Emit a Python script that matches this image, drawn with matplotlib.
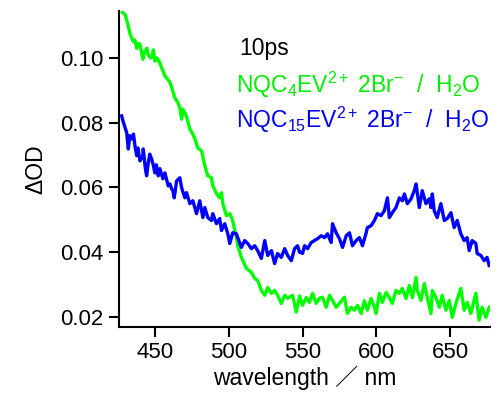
import matplotlib
matplotlib.use("Agg")
import matplotlib.pyplot as plt

plt.rcParams['font.family'] = ['Liberation Sans', 'Noto Sans CJK JP', 'DejaVu Sans']
plt.rcParams['mathtext.fontset'] = 'custom'
plt.rcParams['mathtext.rm'] = 'Liberation Sans'
plt.rcParams['mathtext.it'] = 'Liberation Sans'

# NQC4EV2+ 2Br- / H2O, 10 ps
green_nm = [428.0, 429.8, 431.0, 432.0, 433.1, 434.3, 435.2, 436.5, 437.7, 438.5,
            439.9, 441.0, 441.9, 443.0, 444.6, 445.5, 447.0, 448.0, 449.0, 450.0,
            451.5, 453.4, 455.0, 456.8, 458.5, 460.2, 461.5, 463.5, 465.6, 466.9,
            468.1, 468.9, 471.4, 473.7, 475.7, 477.5, 479.1, 481.6, 483.8, 485.8,
            488.3, 489.2, 491.7, 493.9, 495.1, 496.0, 498.5, 500.7, 502.7, 504.0,
            505.2, 506.1, 508.6, 510.0, 512.0, 515.4, 517.6, 519.6, 522.1, 524.4,
            526.4, 528.9, 531.1, 533.1, 535.6, 537.9, 539.9, 543.3, 545.8, 548.0,
            550.0, 552.5, 554.7, 556.8, 559.3, 561.5, 563.5, 566.0, 568.3, 570.3,
            572.8, 575.0, 578.4, 580.4, 582.9, 585.2, 587.2, 589.7, 591.9, 593.9,
            596.4, 598.7, 599.8, 602.1, 604.1, 606.6, 608.8, 610.8, 613.3, 615.6,
            617.6, 620.1, 622.3, 624.4, 626.9, 627.7, 630.2, 632.5, 634.5, 637.0,
            637.9, 640.4, 642.6, 644.6, 647.1, 649.4, 651.4, 653.9, 657.2, 659.5,
            661.5, 664.0, 667.4, 669.6, 671.6, 674.2, 676.4]
green_od = [0.1141, 0.1134, 0.1115, 0.1098, 0.1075, 0.1062, 0.1051, 0.1055, 0.1030, 0.1045,
            0.1042, 0.1015, 0.0996, 0.1020, 0.1030, 0.1010, 0.1000, 0.1005, 0.1025, 0.0990,
            0.1000, 0.0984, 0.0965, 0.0944, 0.0935, 0.0925, 0.0907, 0.0877, 0.0862, 0.0845,
            0.0811, 0.0842, 0.0820, 0.0780, 0.0765, 0.0745, 0.0722, 0.0713, 0.0667, 0.0636,
            0.0630, 0.0605, 0.0581, 0.0568, 0.0584, 0.0550, 0.0513, 0.0519, 0.0498, 0.0470,
            0.0446, 0.0420, 0.0384, 0.0370, 0.0350, 0.0338, 0.0319, 0.0313, 0.0282, 0.0267,
            0.0291, 0.0273, 0.0282, 0.0267, 0.0242, 0.0267, 0.0258, 0.0267, 0.0215, 0.0265,
            0.0236, 0.0260, 0.0245, 0.0273, 0.0242, 0.0258, 0.0261, 0.0230, 0.0267, 0.0251,
            0.0230, 0.0242, 0.0261, 0.0211, 0.0230, 0.0221, 0.0236, 0.0211, 0.0250, 0.0221,
            0.0257, 0.0230, 0.0211, 0.0273, 0.0245, 0.0276, 0.0260, 0.0242, 0.0282, 0.0273,
            0.0288, 0.0257, 0.0297, 0.0260, 0.0322, 0.0282, 0.0251, 0.0303, 0.0260, 0.0211,
            0.0282, 0.0260, 0.0230, 0.0267, 0.0221, 0.0251, 0.0199, 0.0242, 0.0288, 0.0221,
            0.0245, 0.0211, 0.0273, 0.0190, 0.0230, 0.0199, 0.0230]

# NQC15EV2+ 2Br- / H2O, 10 ps
blue_nm = [427.5, 428.4, 430.9, 432.0, 433.0, 434.3, 435.5, 436.5, 437.7, 438.5,
           439.9, 441.9, 442.1, 443.5, 444.4, 445.5, 446.5, 447.8, 448.7, 450.0,
           451.0, 452.3, 453.4, 455.4, 456.8, 459.0, 460.2, 461.3, 462.2, 463.1,
           464.7, 466.9, 468.1, 470.3, 471.4, 473.7, 475.7, 478.2, 480.4, 482.5,
           483.8, 485.8, 488.3, 489.2, 491.7, 493.9, 495.1, 497.3, 499.4, 500.7,
           502.7, 505.2, 506.1, 508.6, 510.8, 512.9, 515.4, 517.6, 519.6, 522.1,
           524.4, 526.4, 528.9, 531.1, 533.1, 535.6, 537.9, 539.9, 542.4, 544.6,
           546.6, 548.0, 549.1, 550.0, 551.4, 553.4, 555.9, 558.1, 560.2, 562.7,
           564.9, 566.9, 569.4, 570.3, 572.8, 575.0, 577.1, 579.6, 581.8, 583.8,
           586.3, 588.5, 590.6, 593.1, 593.9, 596.4, 598.7, 600.7, 603.2, 605.4,
           607.5, 608.8, 610.8, 613.3, 615.6, 617.6, 619.0, 621.0, 623.5, 625.7,
           626.9, 629.1, 631.1, 633.6, 635.8, 637.0, 637.9, 639.2, 641.2, 643.7,
           646.0, 648.0, 650.5, 652.7, 654.8, 657.2, 659.5, 661.5, 662.9, 664.9,
           667.4, 668.3, 670.8, 673.0, 675.0, 676.4]
blue_od = [0.0821, 0.0805, 0.0769, 0.0719, 0.0760, 0.0750, 0.0765, 0.0728, 0.0698, 0.0722,
           0.0682, 0.0700, 0.0719, 0.0660, 0.0636, 0.0676, 0.0703, 0.0688, 0.0673, 0.0645,
           0.0670, 0.0636, 0.0658, 0.0627, 0.0645, 0.0605, 0.0611, 0.0596, 0.0590, 0.0568,
           0.0620, 0.0630, 0.0599, 0.0568, 0.0584, 0.0550, 0.0559, 0.0519, 0.0559, 0.0507,
           0.0538, 0.0507, 0.0498, 0.0519, 0.0488, 0.0504, 0.0467, 0.0488, 0.0457, 0.0427,
           0.0460, 0.0457, 0.0445, 0.0415, 0.0436, 0.0427, 0.0411, 0.0420, 0.0405, 0.0381,
           0.0436, 0.0390, 0.0405, 0.0365, 0.0396, 0.0384, 0.0411, 0.0390, 0.0374, 0.0411,
           0.0420, 0.0400, 0.0399, 0.0396, 0.0420, 0.0411, 0.0430, 0.0436, 0.0442, 0.0451,
           0.0445, 0.0457, 0.0430, 0.0488, 0.0460, 0.0442, 0.0415, 0.0451, 0.0460, 0.0420,
           0.0436, 0.0445, 0.0420, 0.0460, 0.0476, 0.0482, 0.0498, 0.0519, 0.0513, 0.0528,
           0.0568, 0.0507, 0.0522, 0.0538, 0.0568, 0.0559, 0.0580, 0.0550, 0.0565, 0.0590,
           0.0611, 0.0538, 0.0590, 0.0550, 0.0565, 0.0538, 0.0580, 0.0528, 0.0507, 0.0550,
           0.0498, 0.0504, 0.0522, 0.0476, 0.0498, 0.0457, 0.0436, 0.0445, 0.0405, 0.0436,
           0.0427, 0.0396, 0.0390, 0.0374, 0.0384, 0.0359]

xticks = [450, 500, 550, 600, 650]
yticks = [0.02, 0.04, 0.06, 0.08, 0.10]

fig = plt.figure(figsize=(4.98, 4.01), dpi=100)
ax = fig.add_axes([0.239, 0.1845, 0.745, 0.788])

ax.plot(green_nm, green_od, color='#00ff00', lw=2.4)
ax.plot(blue_nm, blue_od, color='#0000ff', lw=2.4)

ax.set_xlim(425.7, 677)
ax.set_ylim(0.0169, 0.1145)
ax.set_xticks(xticks)
ax.set_yticks(yticks)
ax.set_yticklabels(['%.2f' % v for v in yticks])

for s in ['top', 'right']:
    ax.spines[s].set_visible(False)
for s in ['left', 'bottom']:
    ax.spines[s].set_linewidth(1.5)
ax.tick_params(direction='out', length=7, width=1.5, labelsize=16, pad=4)

ax.set_xlabel('wavelength ／ nm', fontsize=16.5, labelpad=2)
ax.set_ylabel('ΔOD', fontsize=16.5, labelpad=9)

fig.text(0.480, 0.880, '10ps', fontsize=16.5, va='center', color='black')
fig.text(0.474, 0.788, r'NQC$_4$EV$^{2+}$ 2Br$^{-}$  /  H$_2$O', fontsize=16.5,
         va='center', color='#00ee00')
fig.text(0.474, 0.700, r'NQC$_{15}$EV$^{2+}$ 2Br$^{-}$  /  H$_2$O', fontsize=16.5,
         va='center', color='#0000ee')

fig.savefig('out.png', dpi=100)
